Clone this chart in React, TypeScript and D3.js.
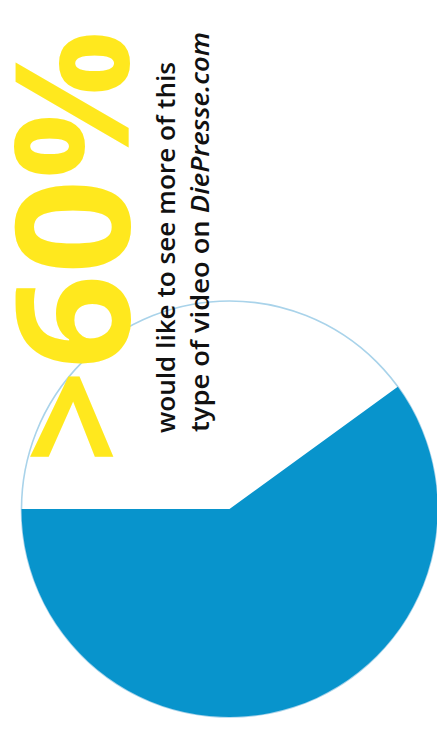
import React from "react";
import * as d3 from "d3";

const W = 437;
const H = 729;

const categories = ["Other", "Would like more"];
const values = [40, 60];
const sliceColors = ["#ffffff", "#0894cc"];
const bigLabel = ">60%";
const lines = ["would like to see more of this", "type of video on "];
const italicPart = "DiePresse.com";

export default function App() {
  const cx = 229.5;
  const cy = 509;
  const r = 208;
  const pie = d3
    .pie<number>()
    .sort(null)
    .startAngle(-Math.PI / 2)
    .endAngle((3 * Math.PI) / 2)(values);
  const arc = d3.arc<d3.PieArcDatum<number>>().innerRadius(0).outerRadius(r);

  return (
    <svg
      width={W}
      height={H}
      style={{ position: "absolute", left: 0, top: 0, background: "#fff" }}
    >
      <g transform={`translate(${cx},${cy})`}>
        <circle r={r} fill="#fff" stroke="#a9d3ea" strokeWidth={1.6} />
        {pie.map((d, i) =>
          i === 0 ? null : (
            <path key={categories[i]} d={arc(d) || ""} fill={sliceColors[i]} />
          )
        )}
      </g>
      <text
        transform="translate(129,464) rotate(-90)"
        fontFamily="'Open Sans', sans-serif"
        fontWeight={700}
        fontSize={158}
        fill="#ffe81e"
        textLength={434}
        lengthAdjust="spacingAndGlyphs"
      >
        {bigLabel}
      </text>
      <text
        transform="translate(175,433) rotate(-90)"
        fontFamily="'Open Sans', sans-serif"
        fontWeight={600}
        fontSize={25}
        fill="#111"
        textLength={371}
        lengthAdjust="spacingAndGlyphs"
      >
        {lines[0]}
      </text>
      <text
        transform="translate(209,432) rotate(-90)"
        fontFamily="'Open Sans', sans-serif"
        fontWeight={600}
        fontSize={25}
        fill="#111"
        textLength={400}
        lengthAdjust="spacingAndGlyphs"
      >
        {lines[1]}
        <tspan fontStyle="italic">{italicPart}</tspan>
      </text>
    </svg>
  );
}
